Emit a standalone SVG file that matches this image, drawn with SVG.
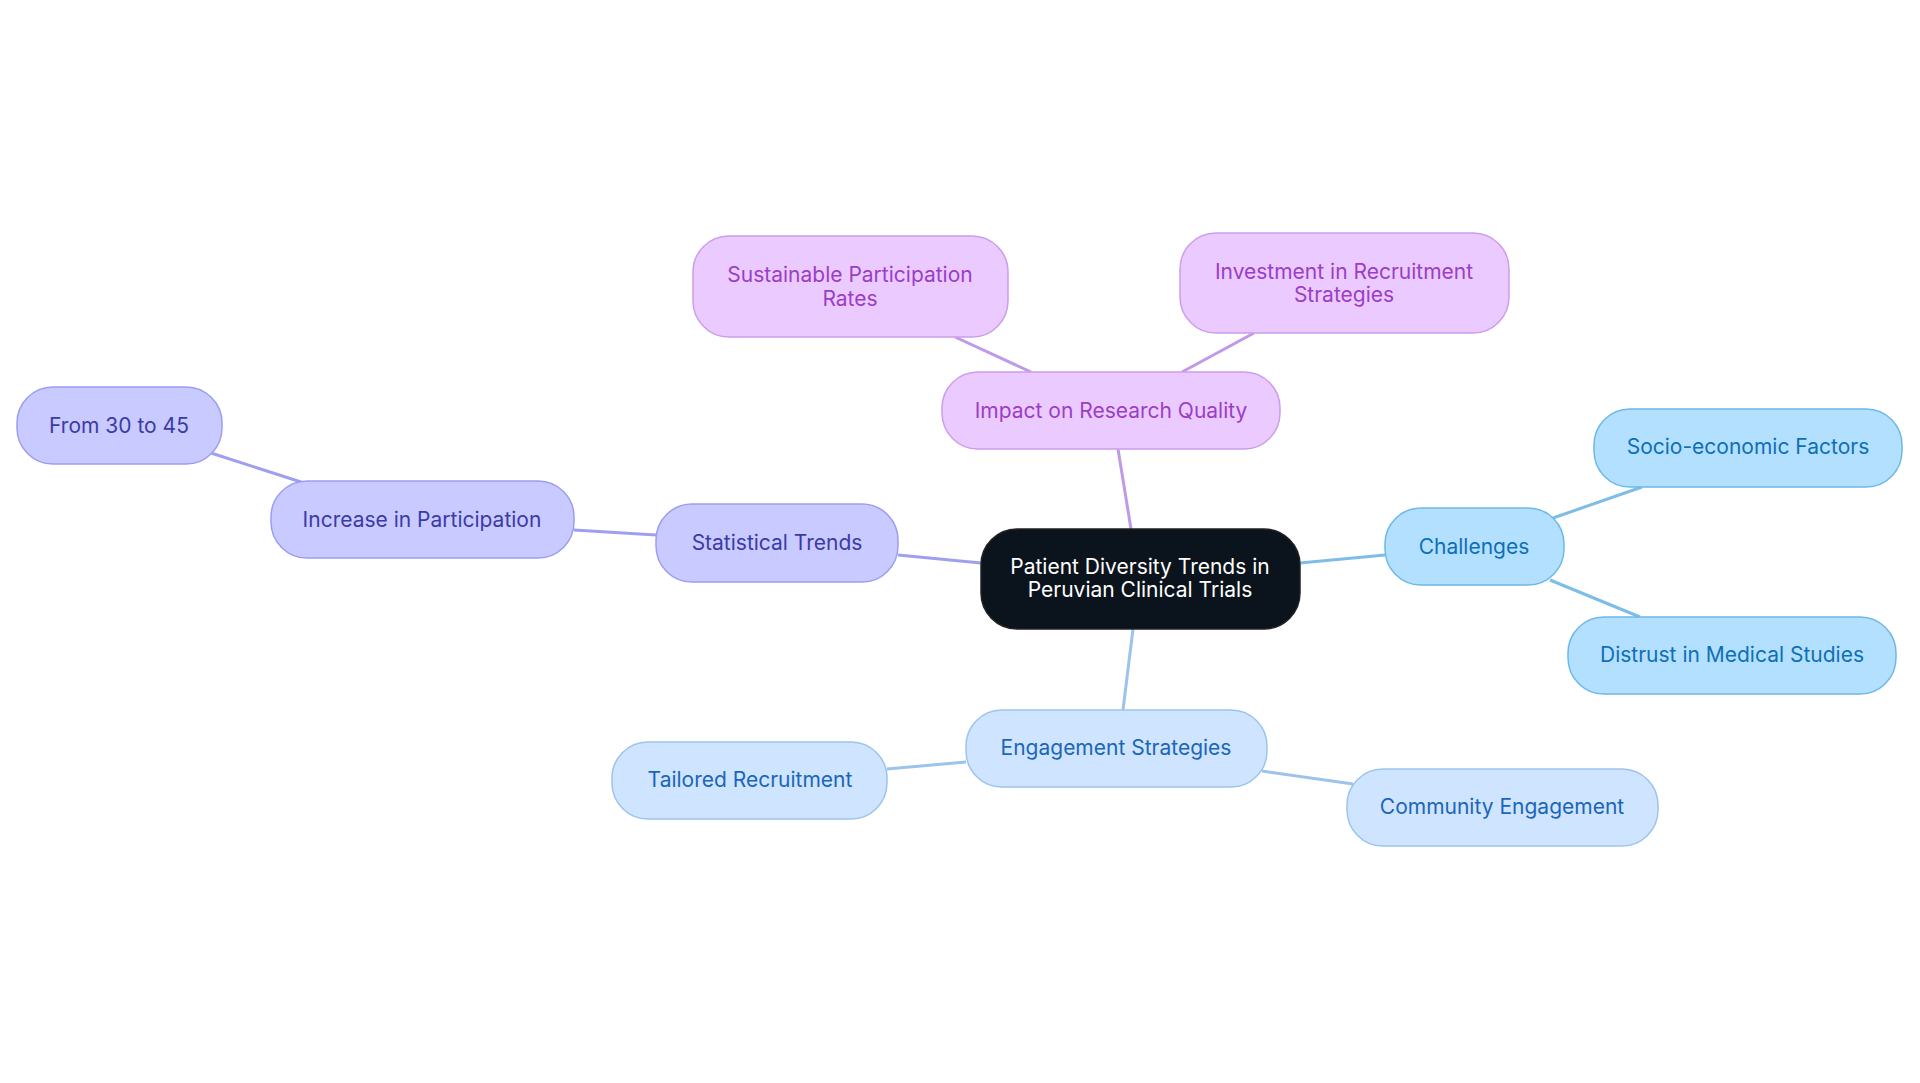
<svg xmlns="http://www.w3.org/2000/svg" width="1920" height="1083" viewBox="0 0 1920 1083">
<style>
text{font-family:Inter,"Noto Sans",sans-serif;font-size:21px;text-anchor:middle;dominant-baseline:central}
.p rect{fill:#c9caff;stroke:#9c9df0;stroke-width:1.5}.p text{fill:#3b3ba8}
.k rect{fill:#ebcaff;stroke:#cb9ded;stroke-width:1.5}.k text{fill:#9a3ec8}
.b rect{fill:#b3e0ff;stroke:#6cb8e8;stroke-width:1.5}.b text{fill:#0e6fb8}
.l rect{fill:#cee4ff;stroke:#9dc3ec;stroke-width:1.5}.l text{fill:#1b66b8}
#edges line{stroke-width:3}
</style>
<rect width="1920" height="1083" fill="#fff"/>
<g id="edges">
<line x1="981" y1="563" x2="898" y2="555" stroke="#9f9ff0"/>
<line x1="656" y1="535" x2="574" y2="530" stroke="#9f9ff0"/>
<line x1="301" y1="482" x2="211" y2="453" stroke="#9f9ff0"/>
<line x1="1131" y1="529" x2="1118" y2="449" stroke="#c09ae8"/>
<line x1="1031" y1="372" x2="955" y2="337" stroke="#c09ae8"/>
<line x1="1182" y1="372" x2="1254" y2="333" stroke="#c09ae8"/>
<line x1="1300" y1="563" x2="1385" y2="555" stroke="#7dbde8"/>
<line x1="1553" y1="518" x2="1642" y2="487" stroke="#7dbde8"/>
<line x1="1550" y1="580" x2="1640" y2="617" stroke="#7dbde8"/>
<line x1="1133" y1="629" x2="1123" y2="710" stroke="#9cc3ec"/>
<line x1="966" y1="762" x2="887" y2="769" stroke="#9cc3ec"/>
<line x1="1262" y1="771" x2="1353" y2="784" stroke="#9cc3ec"/>
</g>
<g id="center"><rect x="981" y="529" width="319" height="100" rx="36" fill="#0b141c" stroke="#222" stroke-width="1.5"/><text x="1140" y="566" fill="#fff">Patient Diversity Trends in</text><text x="1140" y="589" fill="#fff">Peruvian Clinical Trials</text></g>
<g id="stat" class="p"><rect x="656" y="504" width="242" height="78" rx="36"/><text x="777" y="542">Statistical Trends</text></g>
<g id="increase" class="p"><rect x="271" y="481" width="303" height="77" rx="36"/><text x="422" y="519">Increase in Participation</text></g>
<g id="from" class="p"><rect x="17" y="387" width="205" height="77" rx="36"/><text x="119" y="425">From 30 to 45</text></g>
<g id="impact" class="k"><rect x="942" y="372" width="338" height="77" rx="36"/><text x="1111" y="410">Impact on Research Quality</text></g>
<g id="sustain" class="k"><rect x="693" y="236" width="315" height="101" rx="36"/><text x="850" y="274">Sustainable Participation</text><text x="850" y="298">Rates</text></g>
<g id="invest" class="k"><rect x="1180" y="233" width="329" height="100" rx="36"/><text x="1344" y="271">Investment in Recruitment</text><text x="1344" y="294">Strategies</text></g>
<g id="challenges" class="b"><rect x="1385" y="508" width="179" height="77" rx="36"/><text x="1474" y="546">Challenges</text></g>
<g id="socio" class="b"><rect x="1594" y="409" width="308" height="78" rx="36"/><text x="1748" y="446">Socio-economic Factors</text></g>
<g id="distrust" class="b"><rect x="1568" y="617" width="328" height="77" rx="36"/><text x="1732" y="654">Distrust in Medical Studies</text></g>
<g id="engage" class="l"><rect x="966" y="710" width="301" height="77" rx="36"/><text x="1116" y="747">Engagement Strategies</text></g>
<g id="tailored" class="l"><rect x="612" y="742" width="275" height="77" rx="36"/><text x="750" y="779">Tailored Recruitment</text></g>
<g id="community" class="l"><rect x="1347" y="769" width="311" height="77" rx="36"/><text x="1502" y="806">Community Engagement</text></g>
</svg>
